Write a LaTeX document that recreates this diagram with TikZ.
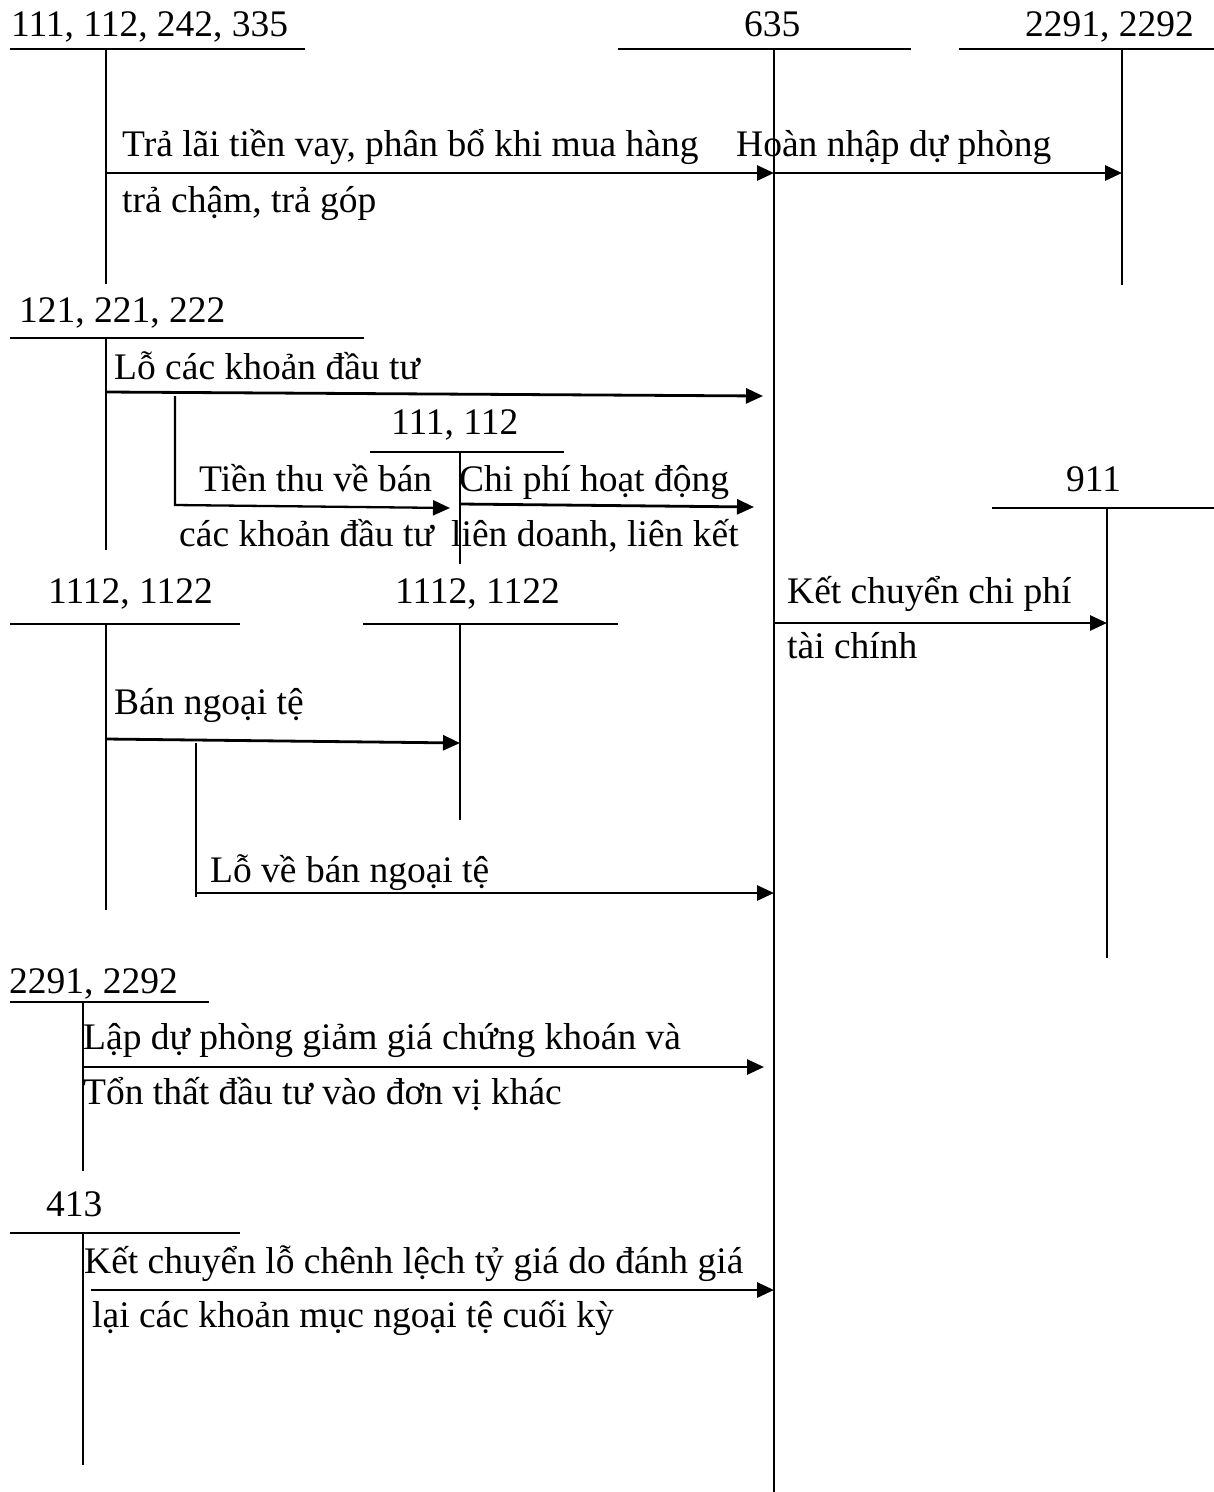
\documentclass[tikz,border=0pt]{standalone}
\usepackage{fontspec}
\setmainfont{Liberation Serif}
\usetikzlibrary{arrows.meta}
\begin{document}
\begin{tikzpicture}[x=1pt,y=-1pt,
 lbl/.style={anchor=base west,inner sep=0pt,font=\fontsize{37.5}{42}\selectfont},
 tbar/.style={line width=2.4pt},
 tstem/.style={line width=1.7pt},
 flow/.style={line width=2.8pt,-{Triangle[length=17pt,width=15pt]}},
 link/.style={line width=1.7pt}]
\useasboundingbox (0,0) rectangle (1214,1492);
\fill[white] (0,0) rectangle (1214,1492);

% ---- account 111,112,242,335
\node[lbl] (tA) at (11,36) {111, 112, 242, 335};
\coordinate (A1) at (10,49); \coordinate (A2) at (305,49);
\coordinate (Atop) at (106,49); \coordinate (Abot) at (106,284);
\draw[tbar] (A1) -- (A2); \draw[tstem] (Atop) -- (Abot);

% ---- account 635
\node[lbl] (tP) at (744,36) {635};
\coordinate (P1) at (618,49); \coordinate (P2) at (911,49);
\coordinate (Ptop) at (774,49); \coordinate (Pbot) at (774,1492);
\draw[tbar] (P1) -- (P2); \draw[tstem] (Ptop) -- (Pbot);

% ---- account 2291,2292 (top right)
\node[lbl] (tR) at (1025,36) {2291, 2292};
\coordinate (R1) at (959,49); \coordinate (R2) at (1214,49);
\coordinate (Rtop) at (1122,49); \coordinate (Rbot) at (1122,285);
\draw[tbar] (R1) -- (R2); \draw[tstem] (Rtop) -- (Rbot);

% arrows row 1
\coordinate (a1s) at (106,173); \coordinate (a1e) at (774,173);
\draw[flow] (a1s) -- (a1e);
\node[lbl] (l1a) at (122,156) {Trả lãi tiền vay, phân bổ khi mua hàng};
\node[lbl] (l1b) at (122,212) {trả chậm, trả góp};
\coordinate (a2s) at (774,173); \coordinate (a2e) at (1122,173);
\draw[flow] (a2s) -- (a2e);
\node[lbl] (l2) at (736,156) {Hoàn nhập dự phòng};

% ---- account 121,221,222
\node[lbl] (tB) at (19,322) {121, 221, 222};
\coordinate (B1) at (10,338); \coordinate (B2) at (364,338);
\coordinate (Btop) at (106,338); \coordinate (Bbot) at (106,550);
\draw[tbar] (B1) -- (B2); \draw[tstem] (Btop) -- (Bbot);
\coordinate (a3s) at (106,392); \coordinate (a3e) at (763,396);
\draw[flow] (a3s) -- (a3e);
\node[lbl] (l3) at (114,379) {Lỗ các khoản đầu tư};

% branch to 111,112
\coordinate (b4top) at (175,396); \coordinate (b4c) at (175,505); \coordinate (b4e) at (450,508);
\draw[flow,line width=2.3pt] (b4top) -- (b4c) -- (b4e);
\node[lbl] (l4a) at (199,491) {Tiền thu về bán};
\node[lbl] (l4b) at (179,546) {các khoản đầu tư};

% ---- account 111,112 (middle)
\node[lbl] (tC) at (391,434) {111, 112};
\coordinate (C1) at (370,452); \coordinate (C2) at (564,452);
\coordinate (Ctop) at (460,452); \coordinate (Cbot) at (460,564);
\draw[tbar] (C1) -- (C2); \draw[tstem] (Ctop) -- (Cbot);
\coordinate (a5s) at (460,504); \coordinate (a5e) at (754,507);
\draw[flow] (a5s) -- (a5e);
\node[lbl] (l5a) at (459,491) {Chi phí hoạt động};
\node[lbl] (l5b) at (451,546) {liên doanh, liên kết};

% ---- account 911
\node[lbl] (tN) at (1066,491) {911};
\coordinate (N1) at (992,508); \coordinate (N2) at (1214,508);
\coordinate (Ntop) at (1107,508); \coordinate (Nbot) at (1107,958);
\draw[tbar] (N1) -- (N2); \draw[tstem] (Ntop) -- (Nbot);
\coordinate (a6s) at (774,623); \coordinate (a6e) at (1107,623);
\draw[flow] (a6s) -- (a6e);
\node[lbl] (l6a) at (787,603) {Kết chuyển chi phí};
\node[lbl] (l6b) at (787,658) {tài chính};

% ---- account 1112,1122 (left)
\node[lbl] (tD) at (48,603) {1112, 1122};
\coordinate (D1) at (10,624); \coordinate (D2) at (240,624);
\coordinate (Dtop) at (106,624); \coordinate (Dbot) at (106,910);
\draw[tbar] (D1) -- (D2); \draw[tstem] (Dtop) -- (Dbot);

% ---- account 1112,1122 (middle)
\node[lbl] (tE) at (395,603) {1112, 1122};
\coordinate (E1) at (363,624); \coordinate (E2) at (618,624);
\coordinate (Etop) at (460,624); \coordinate (Ebot) at (460,820);
\draw[tbar] (E1) -- (E2); \draw[tstem] (Etop) -- (Ebot);
\coordinate (a7s) at (106,739); \coordinate (a7e) at (460,743);
\draw[flow] (a7s) -- (a7e);
\node[lbl] (l7) at (114,714) {Bán ngoại tệ};

\coordinate (b8top) at (196,743); \coordinate (b8c) at (196,897);
\draw[link] (b8top) -- (b8c);
\coordinate (a8s) at (196,893); \coordinate (a8e) at (774,893);
\draw[flow] (a8s) -- (a8e);
\node[lbl] (l8) at (210,882) {Lỗ về bán ngoại tệ};

% ---- account 2291,2292 (lower)
\node[lbl] (tF) at (9,993) {2291, 2292};
\coordinate (F1) at (10,1002); \coordinate (F2) at (209,1002);
\coordinate (Ftop) at (83,1002); \coordinate (Fbot) at (83,1171);
\draw[tbar] (F1) -- (F2); \draw[tstem] (Ftop) -- (Fbot);
\coordinate (a9s) at (83,1067); \coordinate (a9e) at (764,1067);
\draw[flow] (a9s) -- (a9e);
\node[lbl] (l9a) at (83,1049) {Lập dự phòng giảm giá chứng khoán và};
\node[lbl] (l9b) at (83,1104) {Tổn thất đầu tư vào đơn vị khác};

% ---- account 413
\node[lbl] (tG) at (46,1216) {413};
\coordinate (G1) at (10,1233); \coordinate (G2) at (240,1233);
\coordinate (Gtop) at (83,1233); \coordinate (Gbot) at (83,1465);
\draw[tbar] (G1) -- (G2); \draw[tstem] (Gtop) -- (Gbot);
\coordinate (a10s) at (91,1290); \coordinate (a10e) at (774,1290);
\draw[flow] (a10s) -- (a10e);
\node[lbl] (l10a) at (84,1273) {Kết chuyển lỗ chênh lệch tỷ giá do đánh giá};
\node[lbl] (l10b) at (92,1327) {lại các khoản mục ngoại tệ cuối kỳ};
\end{tikzpicture}
\end{document}
